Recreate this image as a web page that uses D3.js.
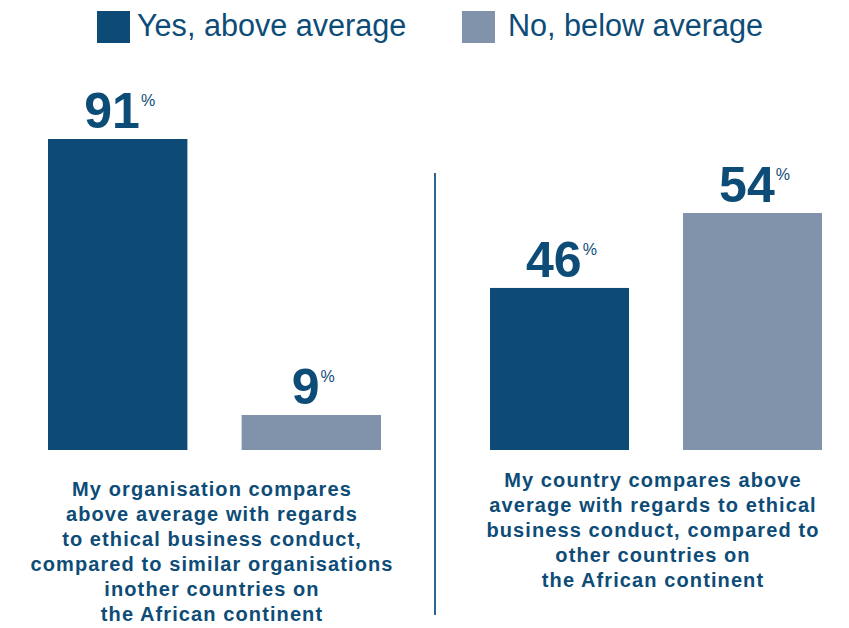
<!DOCTYPE html>
<html>
<head>
<meta charset="utf-8">
<script src="https://cdn.jsdelivr.net/npm/d3@7"></script>
<style>
  body { margin: 0; background: #fff; }
  svg { display: block; font-family: "Liberation Sans", Arial, Helvetica, sans-serif; }
</style>
</head>
<body>
<div id="chart"></div>
<script>
const series = ['Yes, above average', 'No, below average'];
const seriesColors = ['#0d4a76', '#8193ab'];

const leftValues = [91, 9];
const rightValues = [46, 54];

const leftLabel = [
  'My organisation compares',
  'above average with regards',
  'to ethical business conduct,',
  'compared to similar organisations',
  'inother countries on',
  'the African continent'
];
const rightLabel = [
  'My country compares above',
  'average with regards to ethical',
  'business conduct, compared to',
  'other countries on',
  'the African continent'
];

const width = 849, height = 628;
const textColor = '#0e4c78';
const baseY = 450;

const svg = d3.select('#chart').append('svg')
  .attr('width', width).attr('height', height);

// Legend
const legend = svg.append('g');
const legendX = [97, 462];
series.forEach((s, i) => {
  const g = legend.append('g').attr('transform', `translate(${legendX[i]},11)`);
  g.append('rect').attr('width', 33).attr('height', 32).attr('fill', seriesColors[i]);
  g.append('text').attr('x', 40 + (i ? 6 : 0)).attr('y', 25)
    .attr('fill', textColor).attr('font-size', 30.6).text(s);
});

// panels: the source draws each panel on its own vertical scale
const panels = [
  { values: leftValues, label: leftLabel, x0: 48, x1: 381, domain: [-1.4, 91], top: 139, labelY: 496, cx: 212 },
  { values: rightValues, label: rightLabel, x0: 490, x1: 822, domain: [28.7, 54], top: 213, labelY: 487, cx: 653 }
];

panels.forEach(p => {
  const x = d3.scaleBand().domain(series).range([p.x0, p.x1]).paddingInner(0.28);
  const y = d3.scaleLinear().domain(p.domain).range([baseY, p.top]);
  const g = svg.append('g');

  g.selectAll('rect.bar').data(p.values).join('rect')
    .attr('class', 'bar')
    .attr('x', (d, i) => x(series[i]))
    .attr('y', d => y(d))
    .attr('width', x.bandwidth())
    .attr('height', d => baseY - y(d))
    .attr('fill', (d, i) => seriesColors[i]);

  const vals = g.selectAll('text.val').data(p.values).join('text')
    .attr('class', 'val')
    .attr('x', (d, i) => x(series[i]) + x.bandwidth() / 2 + 2)
    .attr('y', d => y(d) - 11)
    .attr('text-anchor', 'middle')
    .attr('fill', textColor);
  vals.append('tspan').attr('font-size', 50).attr('font-weight', 'bold').text(d => d);
  vals.append('tspan').attr('font-size', 16).attr('dx', 1).attr('dy', -22).text('%');

  g.append('text')
    .attr('text-anchor', 'middle').attr('fill', textColor)
    .attr('font-size', 20).attr('font-weight', 'bold').attr('letter-spacing', 1.1)
    .selectAll('tspan').data(p.label).join('tspan')
    .attr('x', p.cx).attr('y', (d, i) => p.labelY + i * 25)
    .text(d => d);
});

// divider
svg.append('line')
  .attr('x1', 435).attr('x2', 435).attr('y1', 173).attr('y2', 615)
  .attr('stroke', '#2f6592').attr('stroke-width', 2);
</script>
</body>
</html>
